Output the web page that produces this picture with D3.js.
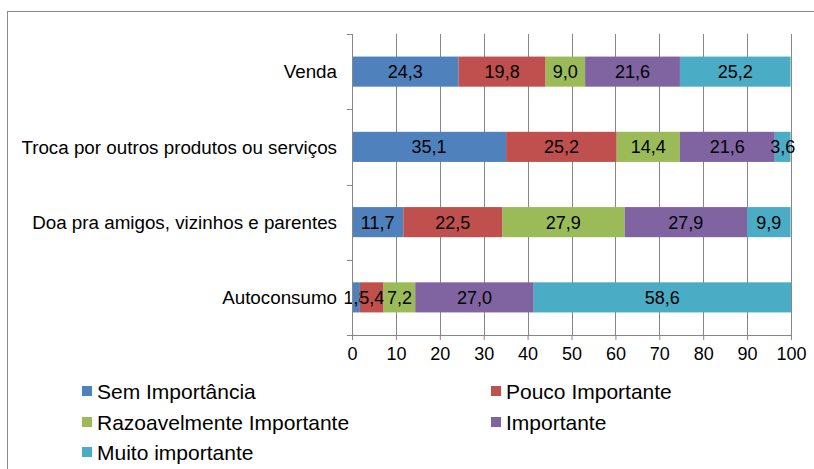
<!DOCTYPE html>
<html>
<head>
<meta charset="utf-8">
<script src="https://cdn.jsdelivr.net/npm/d3@7"></script>
<style>
  body { margin: 0; background: #fff; }
  text { font-family: "Liberation Sans", Arial, sans-serif; fill: #000; }
</style>
</head>
<body>
<div id="chart"></div>
<script>
// categories, top to bottom
var categories = ["Venda", "Troca por outros produtos ou serviços", "Doa pra amigos, vizinhos e parentes", "Autoconsumo"];

// series names
var seriesNames = ["Sem Importância", "Pouco Importante", "Razoavelmente Importante", "Importante", "Muito importante"];

// values per series (same order as categories)
var semImportancia = [24.3, 35.1, 11.7, 1.8];
var poucoImportante = [19.8, 25.2, 22.5, 5.4];
var razoavelmente = [9.0, 14.4, 27.9, 7.2];
var importante = [21.6, 21.6, 27.9, 27.0];
var muitoImportante = [25.2, 3.6, 9.9, 58.6];

var xTicks = [0, 10, 20, 30, 40, 50, 60, 70, 80, 90, 100];

var colors = ["#4F81BD", "#C0504D", "#9BBB59", "#8064A2", "#4BACC6"];

var allSeries = [semImportancia, poucoImportante, razoavelmente, importante, muitoImportante];

// build rows for the stack
var rows = categories.map(function (c, i) {
    var r = { cat: c };
    seriesNames.forEach(function (s, j) { r[s] = allSeries[j][i]; });
    return r;
});

var W = 814, H = 469;
var margin = { top: 34, left: 352, right: 23, bottom: 134 };
var width = W - margin.left - margin.right,
    height = H - margin.top - margin.bottom;

var svg = d3.select("#chart").append("svg")
    .attr("width", W)
    .attr("height", H);

// outer frame (only left/top visible in the picture)
svg.append("rect")
    .attr("x", 7.5).attr("y", 11.5)
    .attr("width", 1000).attr("height", 1000)
    .attr("fill", "none")
    .attr("stroke", "#8c8c8c");

var g = svg.append("g")
    .attr("transform", "translate(" + margin.left + "," + margin.top + ")");

var x = d3.scaleLinear().domain([0, 100]).range([0, width]);
var y = d3.scaleBand().domain(categories).range([0, height])
    .paddingInner(0.6).paddingOuter(0.3);

// vertical gridlines
g.selectAll(".grid")
    .data(xTicks.slice(1))
    .enter().append("line")
    .attr("x1", function (d) { return Math.round(x(d)) + 0.5; })
    .attr("x2", function (d) { return Math.round(x(d)) + 0.5; })
    .attr("y1", 0).attr("y2", height)
    .attr("stroke", "#868686");

// stacked bars
var stack = d3.stack().keys(seriesNames)(rows);

var layers = g.selectAll(".layer")
    .data(stack)
    .enter().append("g")
    .attr("fill", function (d, i) { return colors[i]; });

layers.selectAll("rect")
    .data(function (d) { return d; })
    .enter().append("rect")
    .attr("x", function (d) { return x(d[0]); })
    .attr("width", function (d) { return x(d[1]) - x(d[0]); })
    .attr("y", function (d) { return y(d.data.cat); })
    .attr("height", y.bandwidth());

// value labels
layers.selectAll("text")
    .data(function (d) { return d.map(function (p) { return { p: p, key: d.key }; }); })
    .enter().append("text")
    .attr("x", function (d) { return (x(d.p[0]) + x(d.p[1])) / 2; })
    .attr("y", function (d) { return y(d.p.data.cat) + y.bandwidth() / 2; })
    .attr("dy", "0.36em")
    .attr("text-anchor", "middle")
    .style("font-size", "18px")
    .text(function (d) { return d.p.data[d.key].toFixed(1).replace(".", ","); });

// x axis
var xAxis = g.append("g")
    .attr("transform", "translate(0," + height + ")")
    .call(d3.axisBottom(x).tickValues(xTicks).tickSize(5).tickPadding(7).tickFormat(d3.format("d")));
xAxis.select(".domain").attr("stroke", "#868686");
xAxis.selectAll(".tick line").attr("stroke", "#868686");
xAxis.selectAll(".tick text").style("font-size", "18px").attr("font-family", null);

// y axis (ticks at the band boundaries)
g.append("line")
    .attr("x1", 0.5).attr("x2", 0.5)
    .attr("y1", 0).attr("y2", height + 5)
    .attr("stroke", "#868686");

var bounds = d3.range(categories.length + 1).map(function (i) { return i * height / categories.length; });
g.selectAll(".ytick")
    .data(bounds)
    .enter().append("line")
    .attr("x1", -5).attr("x2", 0)
    .attr("y1", function (d) { return Math.round(d) + 0.5; })
    .attr("y2", function (d) { return Math.round(d) + 0.5; })
    .attr("stroke", "#868686");

g.selectAll(".cat")
    .data(categories)
    .enter().append("text")
    .attr("x", -15)
    .attr("y", function (d) { return y(d) + y.bandwidth() / 2; })
    .attr("dy", "0.36em")
    .attr("text-anchor", "end")
    .style("font-size", "18.8px")
    .text(function (d) { return d; });

// legend
var legendPos = [[82, 391], [491, 391], [82, 422], [491, 422], [82, 452]];
var legend = svg.selectAll(".legend")
    .data(seriesNames)
    .enter().append("g")
    .attr("transform", function (d, i) { return "translate(" + legendPos[i][0] + "," + legendPos[i][1] + ")"; });

legend.append("rect")
    .attr("x", 0).attr("y", -5)
    .attr("width", 10).attr("height", 10)
    .attr("fill", function (d, i) { return colors[i]; });

legend.append("text")
    .attr("x", 15)
    .attr("dy", "0.36em")
    .style("font-size", "21px")
    .text(function (d) { return d; });
</script>
</body>
</html>
